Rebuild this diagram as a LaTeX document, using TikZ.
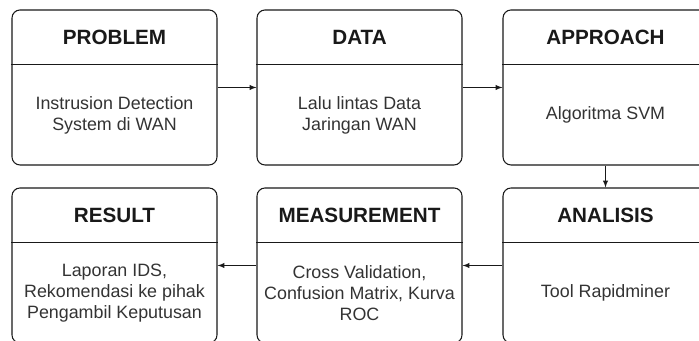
\documentclass[tikz,border=0pt]{standalone}
\usepackage{fontspec}
\setmainfont{Liberation Sans}
\usetikzlibrary{calc}
\usetikzlibrary{arrows, positioning}

\tikzset{
    stage/.style={draw=black!90, line width=0.8pt, rounded corners=6pt,
        minimum width=153.75pt, minimum height=116.25pt, inner sep=0pt},
    stagetitle/.style={font=\fontsize{15.5}{18}\selectfont\bfseries, text=black!90},
    stagebody/.style={font=\fontsize{13.4}{15.6}\selectfont, text=black!80, align=center},
    flow/.style={->, >=latex, draw=black!90, line width=0.8pt}
}

\begin{document}
\begin{tikzpicture}[x=0.75pt, y=0.75pt]

% page frame, the right column and the lower row run past it
\clip (0,0) rectangle (699,341);

% upper row
\node[stage] (problem) at (114.5,253.5) {};
\node[stage] (data) at (359.5,253.5) {};
\node[stage] (approach) at (605.5,253.5) {};

% lower row
\node[stage] (result) at (114.5,75.5) {};
\node[stage] (measure) at (359.5,75.5) {};
\node[stage] (analisis) at (605.5,75.5) {};

% header dividers and texts
\foreach \s/\t/\b in {problem/PROBLEM/{Instrusion Detection\\System di WAN},
                      data/DATA/{Lalu lintas Data\\Jaringan WAN},
                      approach/APPROACH/{Algoritma SVM},
                      result/RESULT/{Laporan IDS,\\Rekomendasi ke pihak\\Pengambil Keputusan},
                      measure/MEASUREMENT/{Cross Validation,\\Confusion Matrix, Kurva\\ROC},
                      analisis/ANALISIS/{Tool Rapidminer}}
{
    \draw[line width=0.8pt, black!90] ($(\s.north west)+(0,-55)$) -- ($(\s.north east)+(0,-55)$);
    \node[stagetitle] (\s-title) at ($(\s.center)+(0,50)$) {\t};
    \node[stagebody] (\s-body) at ($(\s.center)+(0,-27.5)$) {\b};
}

% connectors
\draw[flow] (problem) -- (data);
\draw[flow] (data) -- (approach);
\draw[flow] (approach) -- (analisis);
\draw[flow] (analisis) -- (measure);
\draw[flow] (measure) -- (result);

\end{tikzpicture}
\end{document}
